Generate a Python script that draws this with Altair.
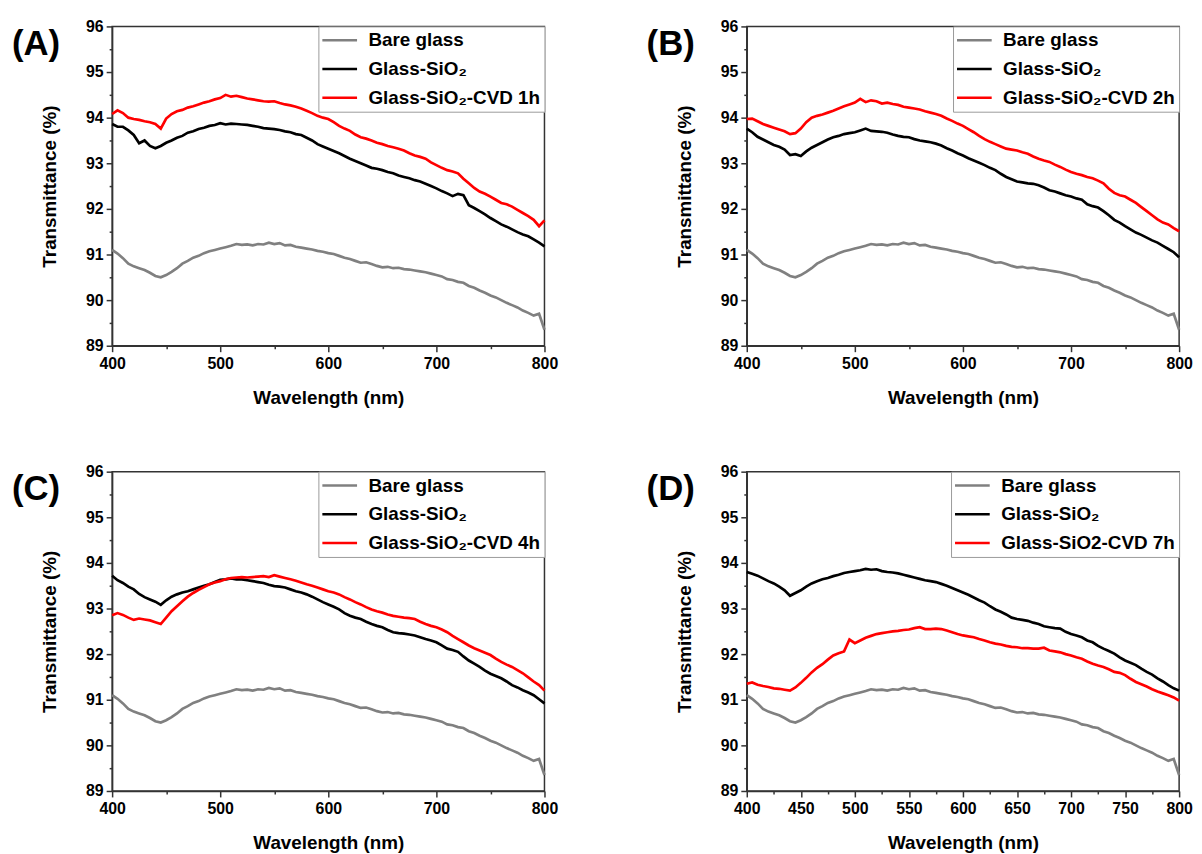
import altair as alt
import pandas as pd

FONT = "Liberation Sans"

WL = list(range(400, 801, 5))

BARE = [91.10, 91.02, 90.92, 90.80, 90.74, 90.70, 90.66, 90.60, 90.53, 90.50,
        90.55, 90.62, 90.70, 90.80, 90.86, 90.93, 90.97, 91.03, 91.07, 91.10,
        91.13, 91.16, 91.19, 91.23, 91.21, 91.22, 91.20, 91.23, 91.22, 91.26,
        91.23, 91.25, 91.20, 91.21, 91.17, 91.15, 91.13, 91.11, 91.08, 91.06,
        91.03, 91.01, 90.97, 90.93, 90.90, 90.86, 90.82, 90.83, 90.79, 90.75,
        90.72, 90.73, 90.70, 90.71, 90.68, 90.67, 90.65, 90.63, 90.61, 90.58,
        90.55, 90.52, 90.46, 90.44, 90.40, 90.38, 90.31, 90.27, 90.21, 90.16,
        90.10, 90.06, 90.00, 89.94, 89.89, 89.84, 89.77, 89.72, 89.66, 89.70,
        89.35]

BLACK_A = [93.86, 93.80, 93.80, 93.72, 93.62, 93.44, 93.50, 93.38, 93.33, 93.38,
           93.45, 93.50, 93.56, 93.60, 93.67, 93.70, 93.75, 93.78, 93.82, 93.84,
           93.88, 93.85, 93.87, 93.86, 93.85, 93.84, 93.82, 93.80, 93.77, 93.76,
           93.75, 93.73, 93.70, 93.68, 93.64, 93.62, 93.56, 93.50, 93.42, 93.37,
           93.32, 93.27, 93.22, 93.16, 93.10, 93.05, 93.00, 92.95, 92.90, 92.88,
           92.85, 92.81, 92.78, 92.73, 92.70, 92.67, 92.63, 92.60, 92.55, 92.50,
           92.45, 92.39, 92.34, 92.28, 92.33, 92.30, 92.08, 92.02, 91.95, 91.88,
           91.80, 91.73, 91.66, 91.61, 91.55, 91.49, 91.44, 91.40, 91.33, 91.26,
           91.18]

RED_A = [94.08, 94.16, 94.10, 94.00, 93.97, 93.95, 93.92, 93.90, 93.86, 93.76,
         93.98, 94.08, 94.14, 94.17, 94.22, 94.25, 94.29, 94.33, 94.36, 94.40,
         94.43, 94.50, 94.46, 94.48, 94.45, 94.42, 94.40, 94.38, 94.36, 94.35,
         94.36, 94.32, 94.29, 94.27, 94.24, 94.20, 94.15, 94.10, 94.04, 94.00,
         93.97, 93.90, 93.82, 93.76, 93.71, 93.63, 93.57, 93.54, 93.50, 93.45,
         93.42, 93.38, 93.35, 93.32, 93.28, 93.22, 93.17, 93.14, 93.10, 93.02,
         92.96, 92.90, 92.85, 92.82, 92.78, 92.66, 92.56, 92.46, 92.38, 92.33,
         92.27, 92.20, 92.13, 92.10, 92.05, 91.98, 91.91, 91.84, 91.76, 91.62,
         91.75]

BLACK_B = [93.76, 93.68, 93.58, 93.52, 93.46, 93.40, 93.36, 93.30, 93.18, 93.20,
           93.16, 93.26, 93.34, 93.40, 93.46, 93.52, 93.57, 93.60, 93.64, 93.66,
           93.68, 93.72, 93.76, 93.71, 93.70, 93.69, 93.67, 93.63, 93.60, 93.58,
           93.57, 93.53, 93.50, 93.48, 93.46, 93.43, 93.39, 93.33, 93.28, 93.22,
           93.17, 93.11, 93.06, 93.01, 92.96, 92.90, 92.85, 92.77, 92.70, 92.65,
           92.60, 92.58, 92.56, 92.55, 92.52, 92.47, 92.41, 92.38, 92.34, 92.30,
           92.27, 92.23, 92.20, 92.10, 92.06, 92.03, 91.95, 91.86, 91.76, 91.70,
           91.62, 91.55, 91.48, 91.43, 91.37, 91.31, 91.26, 91.19, 91.12, 91.05,
           90.94]

RED_B = [93.97, 93.98, 93.92, 93.86, 93.82, 93.78, 93.74, 93.70, 93.64, 93.66,
         93.76, 93.90, 94.00, 94.04, 94.07, 94.11, 94.15, 94.20, 94.25, 94.29,
         94.33, 94.41, 94.34, 94.38, 94.36, 94.31, 94.33, 94.30, 94.28, 94.24,
         94.22, 94.20, 94.18, 94.14, 94.11, 94.08, 94.04, 93.98, 93.93, 93.87,
         93.82, 93.75, 93.68, 93.60, 93.53, 93.47, 93.42, 93.37, 93.32, 93.30,
         93.28, 93.24, 93.21, 93.15, 93.10, 93.06, 93.03, 92.97, 92.92, 92.86,
         92.81, 92.77, 92.74, 92.70, 92.67, 92.62, 92.56, 92.44, 92.35, 92.30,
         92.27, 92.20, 92.13, 92.04, 91.95, 91.86, 91.77, 91.70, 91.66, 91.58,
         91.51]

BLACK_C = [93.72, 93.62, 93.56, 93.48, 93.42, 93.32, 93.25, 93.20, 93.15, 93.08,
           93.18, 93.26, 93.31, 93.35, 93.38, 93.42, 93.46, 93.50, 93.53, 93.58,
           93.63, 93.64, 93.66, 93.64, 93.64, 93.62, 93.60, 93.58, 93.56, 93.52,
           93.49, 93.48, 93.46, 93.42, 93.38, 93.35, 93.31, 93.26, 93.20, 93.14,
           93.09, 93.04, 92.98, 92.90, 92.84, 92.80, 92.77, 92.71, 92.66, 92.62,
           92.59, 92.53, 92.48, 92.46, 92.45, 92.43, 92.41, 92.37, 92.33, 92.30,
           92.26, 92.19, 92.12, 92.09, 92.05, 91.95, 91.86, 91.79, 91.72, 91.64,
           91.57, 91.52, 91.47, 91.40, 91.32, 91.27, 91.21, 91.16, 91.10, 91.01,
           90.92]

RED_C = [92.85, 92.90, 92.86, 92.80, 92.75, 92.78, 92.76, 92.74, 92.70, 92.66,
         92.80, 92.94, 93.05, 93.16, 93.26, 93.34, 93.41, 93.47, 93.53, 93.57,
         93.60, 93.64, 93.67, 93.68, 93.69, 93.68, 93.69, 93.70, 93.71, 93.69,
         93.73, 93.70, 93.67, 93.64, 93.61, 93.57, 93.53, 93.50, 93.46, 93.42,
         93.38, 93.35, 93.31, 93.25, 93.20, 93.14, 93.09, 93.03, 92.98, 92.94,
         92.91, 92.87, 92.84, 92.82, 92.80, 92.79, 92.77, 92.71, 92.66, 92.62,
         92.59, 92.54, 92.48, 92.40, 92.33, 92.26, 92.19, 92.13, 92.08, 92.03,
         91.98, 91.90, 91.83, 91.77, 91.72, 91.65, 91.58, 91.49, 91.40, 91.32,
         91.20]

BLACK_D = [93.80, 93.76, 93.72, 93.66, 93.60, 93.55, 93.48, 93.40, 93.28, 93.34,
           93.40, 93.48, 93.55, 93.60, 93.64, 93.67, 93.71, 93.74, 93.78, 93.80,
           93.82, 93.84, 93.87, 93.85, 93.86, 93.82, 93.80, 93.79, 93.77, 93.74,
           93.71, 93.68, 93.65, 93.62, 93.60, 93.58, 93.54, 93.50, 93.45, 93.40,
           93.35, 93.30, 93.24, 93.18, 93.13, 93.05, 92.98, 92.93, 92.87, 92.80,
           92.77, 92.75, 92.73, 92.69, 92.66, 92.61, 92.59, 92.57, 92.56, 92.49,
           92.44, 92.41, 92.37, 92.30, 92.26, 92.18, 92.12, 92.07, 92.01, 91.93,
           91.86, 91.81, 91.76, 91.68, 91.61, 91.55, 91.47, 91.40, 91.32, 91.25,
           91.20]

RED_D = [91.35, 91.38, 91.33, 91.30, 91.28, 91.25, 91.24, 91.22, 91.20, 91.27,
         91.37, 91.48, 91.60, 91.70, 91.78, 91.88, 91.97, 92.02, 92.06, 92.32,
         92.24, 92.30, 92.36, 92.40, 92.44, 92.46, 92.48, 92.50, 92.51, 92.53,
         92.54, 92.57, 92.59, 92.55, 92.55, 92.56, 92.55, 92.52, 92.48, 92.44,
         92.41, 92.39, 92.37, 92.33, 92.30, 92.26, 92.23, 92.21, 92.18, 92.16,
         92.15, 92.13, 92.13, 92.12, 92.12, 92.14, 92.08, 92.06, 92.04, 92.00,
         91.97, 91.93, 91.90, 91.84, 91.79, 91.75, 91.72, 91.67, 91.61, 91.59,
         91.54, 91.46, 91.39, 91.34, 91.29, 91.23, 91.18, 91.14, 91.10, 91.05,
         90.98]

LABEL_BARE = "Bare glass"
LABEL_SIO2 = "Glass-SiO\u2082"
RED_LABELS = ["Glass-SiO\u2082-CVD 1h", "Glass-SiO\u2082-CVD 2h",
              "Glass-SiO\u2082-CVD 4h", "Glass-SiO2-CVD 7h"]
LETTERS = ["(A)", "(B)", "(C)", "(D)"]
COLORS = ["#808080", "#000000", "#ff0000"]

Y_MAJOR = [89, 90, 91, 92, 93, 94, 95, 96]
Y_MINOR = [89.5, 90.5, 91.5, 92.5, 93.5, 94.5, 95.5]
X_MAJOR_100 = [400, 500, 600, 700, 800]
X_MINOR_100 = [450, 550, 650, 750]
X_MAJOR_50 = [400, 450, 500, 550, 600, 650, 700, 750, 800]
X_MINOR_50 = [425, 475, 525, 575, 625, 675, 725, 775]

W, H = 436, 322


def panel(black, red, red_label, letter, xmaj, xmin):
    labels = [LABEL_BARE, LABEL_SIO2, red_label]
    rows = []
    for lab, vals in zip(labels, [BARE, black, red]):
        for w, t in zip(WL, vals):
            rows.append({"wl": w, "T": t, "series": lab})
    df = pd.DataFrame(rows)
    xs = alt.Scale(domain=[400, 800], nice=False, zero=False)
    ys = alt.Scale(domain=[89, 96], nice=False, zero=False)
    lines = alt.Chart(df).mark_line(strokeWidth=2.7).encode(
        x=alt.X("wl:Q", scale=xs, axis=alt.Axis(
            values=xmaj, orient="bottom", title="Wavelength (nm)", grid=False,
            tickSize=6, labelPadding=4, titlePadding=17, format="d",
            labelFlush=False)),
        y=alt.Y("T:Q", scale=ys, axis=alt.Axis(
            values=Y_MAJOR, orient="left", title="Transmittance (%)", grid=False,
            tickSize=6, labelPadding=3, titlePadding=26, format="d",
            labelFlush=False)),
        color=alt.Color("series:N", scale=alt.Scale(domain=labels, range=COLORS),
                        legend=alt.Legend(
                            title=None, orient="top-right", offset=0,
                            strokeColor="#9a9a9a", fillColor="white", padding=4,
                            labelFont=FONT, labelFontSize=19, labelFontWeight="bold",
                            labelColor="black", labelLimit=400, labelOffset=19,
                            symbolType="M-2,0H2", symbolSize=306, symbolOffset=7.5,
                            symbolStrokeWidth=2.5, rowPadding=9)),
    )
    minor = alt.Chart(df).mark_line(strokeOpacity=0).encode(
        x=alt.X("wl:Q", scale=xs, axis=alt.Axis(
            values=xmin, orient="bottom", title=None, labels=False, domain=False,
            grid=False, tickSize=3)),
        y=alt.Y("T:Q", scale=ys, axis=alt.Axis(
            values=Y_MINOR, orient="left", title=None, labels=False, domain=False,
            grid=False, tickSize=3)),
        detail="series:N",
    )
    tag = alt.Chart(pd.DataFrame({"tag": [letter]})).mark_text(
        align="left", baseline="alphabetic", font=FONT, fontSize=35,
        fontWeight="bold", color="black",
    ).encode(text="tag:N", x=alt.value(-101), y=alt.value(29))
    return alt.layer(lines, minor, tag).resolve_axis(
        x="independent", y="independent"
    ).properties(width=W, height=H)


panels = [
    panel(BLACK_A, RED_A, RED_LABELS[0], LETTERS[0], X_MAJOR_100, X_MINOR_100),
    panel(BLACK_B, RED_B, RED_LABELS[1], LETTERS[1], X_MAJOR_100, X_MINOR_100),
    panel(BLACK_C, RED_C, RED_LABELS[2], LETTERS[2], X_MAJOR_100, X_MINOR_100),
    panel(BLACK_D, RED_D, RED_LABELS[3], LETTERS[3], X_MAJOR_50, X_MINOR_50),
]

chart = alt.concat(*panels, columns=2, spacing={"row": 127, "column": 204},
                   bounds="flush").resolve_scale(color="independent").properties(
    padding={"left": 3, "top": 6, "right": 0, "bottom": 0},
    background="white",
).configure_view(
    stroke="#333333", strokeWidth=1.5
).configure_axis(
    labelFont=FONT, labelFontSize=16, labelFontWeight="bold", labelColor="black",
    titleFont=FONT, titleFontSize=19, titleFontWeight="bold", titleColor="black",
    domainColor="#333333", domainWidth=1.5, tickColor="#333333", tickWidth=1.5,
)

chart.save("out.html", embed_options={"renderer": "svg", "actions": False})
